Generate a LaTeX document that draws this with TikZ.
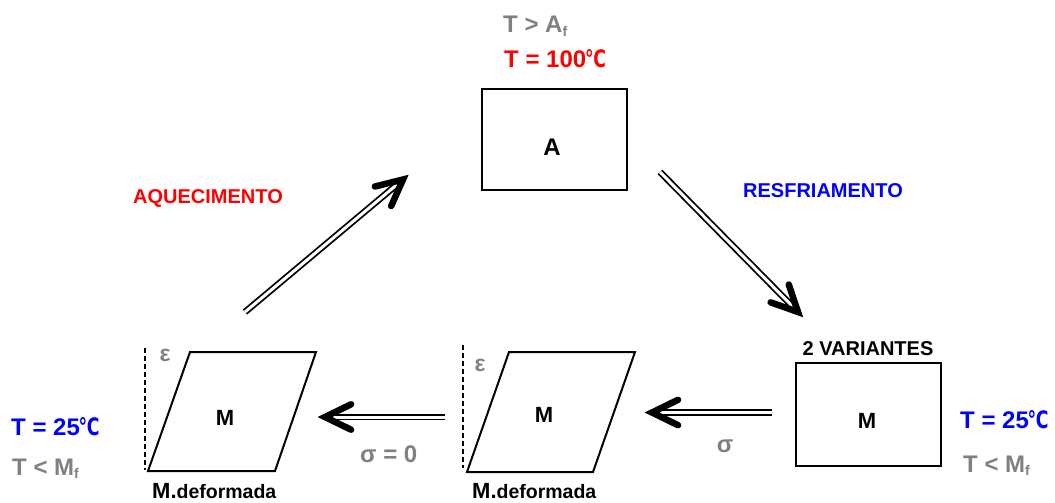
\documentclass[tikz,border=0pt]{standalone}
\usepackage{fontspec}
\usepackage{graphicx}
\setmainfont{Liberation Sans}
\newfontfamily\dejavu{DejaVu Sans}
\usetikzlibrary{calc}
\definecolor{lbl}{RGB}{128,128,128}
\definecolor{hot}{RGB}{255,0,0}
\definecolor{cold}{RGB}{0,0,255}
\newcommand{\fsz}[1]{\fontsize{#1}{#1}\selectfont}
\newcommand{\degC}{\kern-0.05em\scalebox{0.72}[1]{\dejavu\bfseries ℃}}
\newcommand{\subf}{\raisebox{-0.3ex}{\fsz{14}f}}
\begin{document}
\begin{tikzpicture}[x=1pt,y=-1pt,
 txt/.style={inner sep=0pt, font=\bfseries, anchor=base west},
 ctxt/.style={inner sep=0pt, font=\bfseries, anchor=base},
 box/.style={draw, line width=2pt, inner sep=0pt},
 shaft/.style={draw, line width=1.8pt, double, double distance=3pt},
 chev/.style={draw, line width=6.5pt, line cap=round, line join=miter},
 para/.style={draw, line width=2pt, line join=miter},
 guide/.style={draw, line width=1.3pt, dash pattern=on 5pt off 3pt}]
\useasboundingbox (0,0) rectangle (1055,503);

% --- top: austenite box ---
\node[box, minimum width=145pt, minimum height=101pt] (boxA) at (554.5,139) {};
\node[ctxt, font=\bfseries\fsz{24}] (labA) at (552,155) {A};
\node[txt, text=lbl, font=\bfseries\fsz{24}] (tAf) at (503,33) {T > A\subf};
\node[txt, text=hot, font=\bfseries\fsz{24}] (t100) at (504,68) {T = 100\degC};

\node[txt, text=hot, font=\bfseries\fsz{20}] (aq) at (133,203) {AQUECIMENTO};
\node[txt, text=cold, font=\bfseries\fsz{20}] (rf) at (743,197) {RESFRIAMENTO};

% --- right: twinned martensite box ---
\node[box, minimum width=145pt, minimum height=103pt] (boxM) at (868,414) {};
\node[ctxt, font=\bfseries\fsz{22}] (labM) at (867,428) {M};
\node[ctxt, font=\bfseries\fsz{20}] (var) at (868,355) {2 VARIANTES};
\node[txt, text=cold, font=\bfseries\fsz{24}] (t25r) at (960,428) {T = 25\degC};
\node[txt, text=lbl, font=\bfseries\fsz{24}] (tMr) at (963,472) {T < M\subf};

% --- middle: deformed martensite ---
\coordinate (m1) at (467,472);
\coordinate (m2) at (593,472);
\coordinate (m3) at (635,352);
\coordinate (m4) at (509,352);
\draw[para] (m1) -- (m2) -- (m3) -- (m4) -- cycle;
\coordinate (g2a) at (463,345);
\coordinate (g2b) at (463,468);
\draw[guide] (g2a) -- (g2b);
\node[ctxt, text=lbl, font=\bfseries\fsz{23}] (eps2) at (480,371) {ε};
\node[ctxt, font=\bfseries\fsz{22}] (labM2) at (544,422) {M};
\node[txt] (def2) at (472,498) {\fsz{22}M.\fsz{19.5}deformada};

% --- left: deformed martensite ---
\coordinate (l1) at (148,471);
\coordinate (l2) at (275,471);
\coordinate (l3) at (316,352);
\coordinate (l4) at (190,352);
\draw[para] (l1) -- (l2) -- (l3) -- (l4) -- cycle;
\coordinate (g1a) at (145,348);
\coordinate (g1b) at (145,470);
\draw[guide] (g1a) -- (g1b);
\node[ctxt, text=lbl, font=\bfseries\fsz{23}] (eps1) at (165,361) {ε};
\node[ctxt, font=\bfseries\fsz{22}] (labM1) at (225,425) {M};
\node[txt] (def1) at (152,498) {\fsz{22}M.\fsz{19.5}deformada};
\node[txt, text=cold, font=\bfseries\fsz{24}] (t25l) at (11,435) {T = 25\degC};
\node[txt, text=lbl, font=\bfseries\fsz{24}] (tMl) at (12,475) {T < M\subf};

% --- arrows ---
\coordinate (a1s) at (245,312);
\coordinate (a1e) at (403,179.5);
\coordinate (a2s) at (660,172);
\coordinate (a2e) at (798,312);
\coordinate (a3s) at (772,412.5);
\coordinate (a3e) at (652,412.5);
\coordinate (a4s) at (445,417);
\coordinate (a4e) at (325,417);
\foreach \a in {a1,a2,a3,a4}{
  \draw[shaft] (\a s) -- (\a e);
  \draw[chev] ($(\a e)!29pt!26:(\a s)$) -- (\a e) -- ($(\a e)!29pt!-26:(\a s)$);
}
\node[ctxt, text=lbl, font=\bfseries\fsz{24}] (sig) at (725,452) {σ};
\node[txt, text=lbl, font=\bfseries\fsz{24}] (sig0) at (360,462) {σ = 0};
\end{tikzpicture}
\end{document}
